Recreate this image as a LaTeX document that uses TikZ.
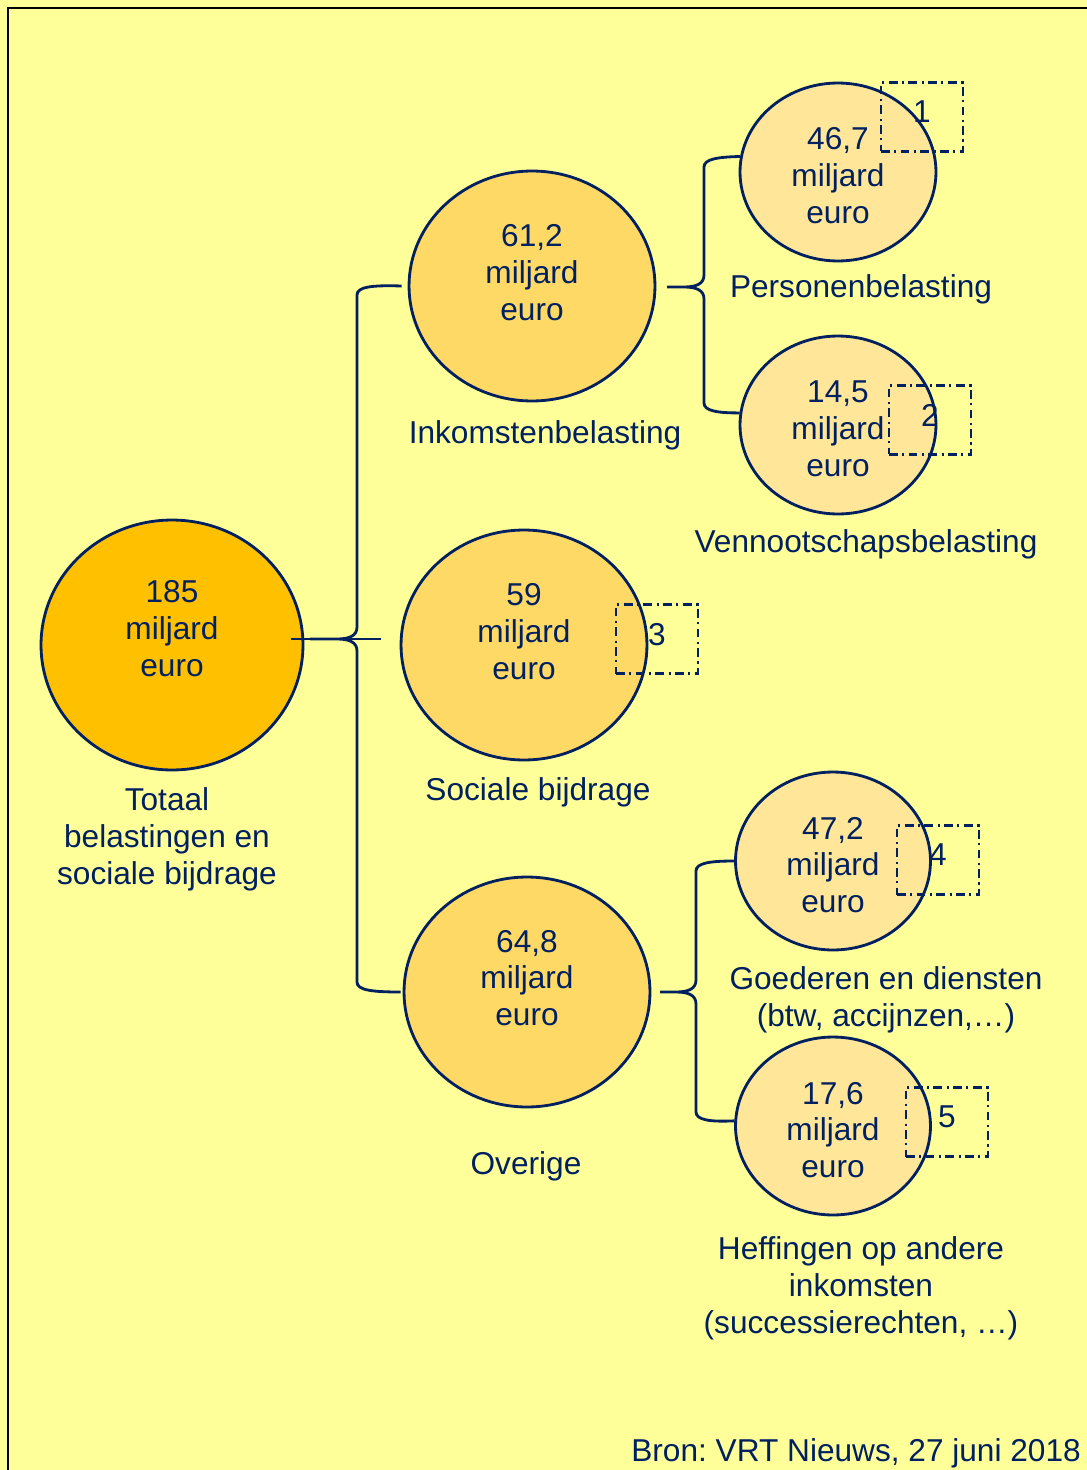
\documentclass[tikz,border=0pt]{standalone}
\usepackage{fontspec}
\setmainfont{Liberation Sans}
\usetikzlibrary{shapes.geometric}

\definecolor{navy}{HTML}{002060}
\definecolor{geel}{HTML}{FFFF99}
\definecolor{oranje}{HTML}{FFC000}
\definecolor{goud}{HTML}{FFD966}
\definecolor{licht}{HTML}{FFE699}

\tikzset{
  bol/.style={ellipse, draw=navy, line width=1.6pt, inner sep=0pt},
  groot/.style={bol, fill=oranje, minimum width=5.24cm, minimum height=5cm},
  middel/.style={bol, fill=goud, minimum width=4.92cm, minimum height=4.6cm},
  klein/.style={bol, fill=licht, minimum width=3.92cm, minimum height=3.56cm},
  tekst/.style={text=navy, align=center, font=\fontsize{18}{21}\selectfont},
  kader/.style={tekst, draw=navy, line width=1.6pt, dash pattern=on 5pt off 2.5pt on 1.2pt off 2.5pt,
    minimum width=1.64cm, minimum height=1.38cm, text depth=0.2cm, inner sep=0pt},
  lijn/.style={draw=navy, line width=1.6pt},
}

% #1 boven, #2 onder, #3 x rug, #4 y boven, #5 y onder, #6 x punt, #7 y punt
\newcommand{\accolade}[7]{%
  \draw[lijn] (#1) .. controls (#3+14,#4) and (#3,#4+2) .. (#3,#4+10)
    -- (#3,#7-12) .. controls (#3,#7-3) and (#3-8,#7) .. (#3-20,#7) -- (#6,#7)
    -- (#3-20,#7) .. controls (#3-8,#7) and (#3,#7+3) .. (#3,#7+12)
    -- (#3,#5-10) .. controls (#3,#5-2) and (#3+14,#5) .. (#2);
}

\begin{document}
\begin{tikzpicture}[x=0.02cm, y=-0.02cm]
  \useasboundingbox (0,0) rectangle (1087,1470);
  \fill[geel] (0,0) rectangle (1087,1470);
  \draw[line width=1.3pt] (8,1470) -- (8,8) -- (1087,8);

  \node[groot] (totaal) at (172,645) {};
  \node[middel] (ink) at (532,286) {};
  \node[middel] (soc) at (524,645) {};
  \node[middel] (ove) at (527,992) {};
  \node[klein] (pers) at (838,172) {};
  \node[klein] (venn) at (838,425) {};
  \node[klein, minimum width=3.9cm] (goed) at (833,861) {};
  \node[klein, minimum width=3.9cm] (heff) at (833,1126) {};

  \coordinate (aftak-l) at (291,639);
  \coordinate (aftak-r) at (381,639);
  \draw[lijn] (aftak-l) -- (aftak-r);

  \accolade{[xshift=-0.12cm]ink.west}{[xshift=-0.04cm]ove.west}{357}{285}{992}{310}{639}
  \accolade{pers.171}{venn.173}{704}{157}{413}{667}{287}
  \accolade{goed.180}{heff.177}{696}{861}{1122}{660}{992}

  \node[tekst] (totaal-tekst) at (172,629) {185\\miljard\\euro};
  \node[tekst] (ink-tekst) at (532,273) {61,2\\miljard\\euro};
  \node[tekst] (soc-tekst) at (524,632) {59\\miljard\\euro};
  \node[tekst] (ove-tekst) at (527,978) {64,8\\miljard\\euro};
  \node[tekst] (pers-tekst) at (838,176) {46,7\\miljard\\euro};
  \node[tekst] (venn-tekst) at (838,429) {14,5\\miljard\\euro};
  \node[tekst] (goed-tekst) at (833,865) {47,2\\miljard\\euro};
  \node[tekst] (heff-tekst) at (833,1130) {17,6\\miljard\\euro};

  \node[kader] (kader1) at (922,117) {1};
  \node[kader] (kader2) at (930,420) {2};
  \node[kader] (kader3) at (657,639) {3};
  \node[kader] (kader4) at (938,860) {4};
  \node[kader] (kader5) at (947,1122) {5};

  \node[tekst] (totaal-label) at (167,839) {Totaal\\belastingen en\\sociale bijdrage};
  \node[tekst] (ink-label) at (545,435) {Inkomstenbelasting};
  \node[tekst] (soc-label) at (538,792) {Sociale bijdrage};
  \node[tekst] (ove-label) at (526,1166) {Overige};
  \node[tekst] (pers-label) at (861,289) {Personenbelasting};
  \node[tekst] (venn-label) at (866,544) {Vennootschapsbelasting};
  \node[tekst] (goed-label) at (886,1000) {Goederen en diensten\\(btw, accijnzen,…)};
  \node[tekst] (heff-label) at (861,1288) {Heffingen op andere\\inkomsten\\(successierechten, …)};

  \node[tekst, anchor=east] (bron) at (1087,1453) {Bron:\ VRT Nieuws, 27 juni 2018};
\end{tikzpicture}
\end{document}
